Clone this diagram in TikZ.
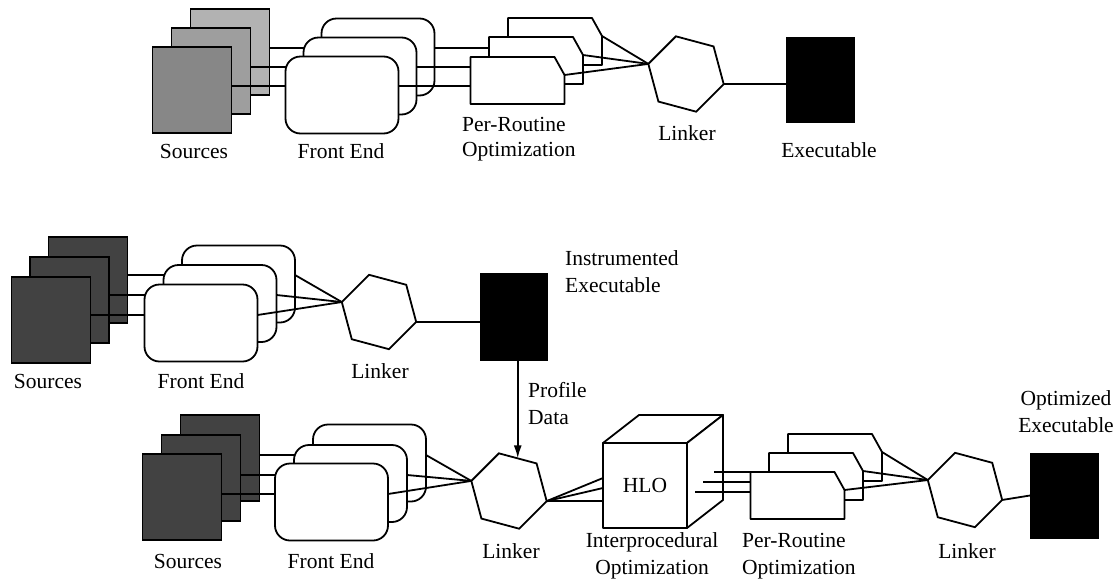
\documentclass[tikz,border=0pt]{standalone}
\usepackage{fontspec}
\setmainfont{Liberation Serif}
\usetikzlibrary{shapes.geometric,arrows.meta}
\pgfdeclarelayer{cubeL}
\pgfdeclarelayer{bkLn}
\pgfdeclarelayer{bk}
\pgfdeclarelayer{mdLn}
\pgfdeclarelayer{md}
\pgfdeclarelayer{frLn}
\pgfdeclarelayer{fr}
\pgfsetlayers{cubeL,bkLn,bk,mdLn,md,frLn,fr,main}
\tikzset{
 ln/.style={line width=1.8pt},
 srcbox/.style={draw, line width=1.5pt, minimum width=79pt, minimum height=86pt, inner sep=0pt, outer sep=0pt},
 febox/.style={draw, fill=white, line width=1.8pt, rounded corners=15pt, minimum width=113pt, minimum height=77pt, inner sep=0pt, outer sep=0pt},
 prbox/.style={minimum width=94pt, minimum height=47pt, inner sep=0pt, outer sep=0pt},
 prline/.style={draw, fill=white, line width=1.8pt, line join=round},
 hexa/.style={regular polygon, regular polygon sides=6, shape border rotate=-15, draw, fill=white, line width=1.8pt, minimum size=78pt, inner sep=0pt, outer sep=0pt},
 exebox/.style={draw, fill=black, minimum width=68pt, minimum height=85pt, inner sep=0pt, outer sep=0pt},
 cubeface/.style={draw, fill=white, line width=1.8pt, line join=round},
 lbl/.style={font=\fontsize{21.5}{27}\selectfont, inner sep=0pt},
 srclight/.style={fill=black!30},
 srcmid/.style={fill=black!38},
 srcdark/.style={fill=black!47},
 srcnight/.style={fill=black!74},
}
\newcommand\drawprbox[1]{\path[prline] (#1.south west) -- (#1.north west) -- ([xshift=-10pt]#1.north east) -- ([yshift=-18pt]#1.north east) -- (#1.south east) -- cycle;}
\begin{document}
\begin{tikzpicture}[x=1pt,y=-1pt]
\useasboundingbox (0,0) rectangle (1117,579);

% ================= TOP ROW =================
\begin{pgfonlayer}{bk}
 \node[srcbox, srclight] (sA3) at (230,52) {};
 \node[febox] (fA3) at (378,57) {};
 \node[prbox] (pA3) at (555,41.5) {};
 \drawprbox{pA3}
\end{pgfonlayer}
\begin{pgfonlayer}{md}
 \node[srcbox, srcmid] (sA2) at (211,71) {};
 \node[febox] (fA2) at (360,76) {};
 \node[prbox] (pA2) at (536,60.5) {};
 \drawprbox{pA2}
\end{pgfonlayer}
\begin{pgfonlayer}{fr}
 \node[srcbox, srcdark] (sA1) at (192,90) {};
 \node[febox] (fA1) at (342,95) {};
 \node[prbox] (pA1) at (517.5,80.5) {};
 \drawprbox{pA1}
\end{pgfonlayer}
\begin{pgfonlayer}{bkLn}
 \draw[ln] ([yshift=4pt]sA3.east) -- ([yshift=4pt]sA3.east -| pA3.west);
\end{pgfonlayer}
\begin{pgfonlayer}{mdLn}
 \draw[ln] ([yshift=4pt]sA2.east) -- ([yshift=4pt]sA2.east -| pA2.west);
\end{pgfonlayer}
\begin{pgfonlayer}{frLn}
 \draw[ln] ([yshift=4pt]sA1.east) -- ([yshift=4pt]sA1.east -| pA1.west);
\end{pgfonlayer}
\node[hexa] (lnkA) at (686,74) {};
\node[exebox] (exeA) at (820,79.5) {};
\draw[ln] ([yshift=-18pt]pA3.north east) -- (lnkA.165);
\draw[ln] ([yshift=-18pt]pA2.north east) -- (lnkA.165);
\draw[ln] ([yshift=-18pt]pA1.north east) -- (lnkA.165);
\draw[ln] (lnkA.-15) -- (lnkA.-15 -| exeA.west);
\node[lbl, anchor=base] (tA1) at (194,158) {Sources};
\node[lbl, anchor=base] (tA2) at (341,158) {Front End};
\node[lbl, anchor=west, align=left, font=\fontsize{21.5}{25}\selectfont] (tA3) at (462,139.6) {Per-Routine\\Optimization};
\node[lbl, anchor=base] (tA4) at (687,140) {Linker};
\node[lbl, anchor=base] (tA5) at (829,157) {Executable};

% ================= MIDDLE ROW =================
\begin{pgfonlayer}{bk}
 \node[srcbox, srcnight] (sB3) at (88,280) {};
 \node[febox] (fB3) at (238.5,284) {};
\end{pgfonlayer}
\begin{pgfonlayer}{md}
 \node[srcbox, srcnight] (sB2) at (69.5,300) {};
 \node[febox] (fB2) at (220,303.5) {};
\end{pgfonlayer}
\begin{pgfonlayer}{fr}
 \node[srcbox, srcnight] (sB1) at (51,320) {};
 \node[febox] (fB1) at (201,323) {};
\end{pgfonlayer}
\begin{pgfonlayer}{bkLn}
 \draw[ln] ([yshift=5pt]sB3.east) -- ([yshift=5pt]sB3.east -| fB3.west);
\end{pgfonlayer}
\begin{pgfonlayer}{mdLn}
 \draw[ln] ([yshift=5pt]sB2.east) -- ([yshift=5pt]sB2.east -| fB2.west);
\end{pgfonlayer}
\begin{pgfonlayer}{frLn}
 \draw[ln] ([yshift=5pt]sB1.east) -- ([yshift=5pt]sB1.east -| fB1.west);
\end{pgfonlayer}
\node[hexa, minimum size=77pt] (lnkB) at (379,312) {};
\node[exebox, minimum width=67pt, minimum height=87pt] (ieB) at (513.5,316.5) {};
\draw[ln] ([yshift=5pt]sB3.east -| fB3.east) -- (lnkB.165);
\draw[ln] ([yshift=5pt]sB2.east -| fB2.east) -- (lnkB.165);
\draw[ln] ([yshift=5pt]sB1.east -| fB1.east) -- (lnkB.165);
\draw[ln] (lnkB.-15) -- (lnkB.-15 -| ieB.west);
\node[lbl, anchor=base] (tB1) at (48,388) {Sources};
\node[lbl, anchor=base] (tB2) at (201,388) {Front End};
\node[lbl, anchor=base] (tB3) at (380,378) {Linker};
\node[lbl, anchor=west, align=left] (tB4) at (565,272) {Instrumented\\Executable};

% ================= BOTTOM ROW =================
\begin{pgfonlayer}{cubeL}
 \node[cubeface, minimum width=84pt, minimum height=85pt, inner sep=0pt, outer sep=0pt, font=\fontsize{21.5}{27}\selectfont] (hlo) at (645,485.5) {HLO};
 \path[cubeface] (hlo.north west) -- ([shift={(36pt,28pt)}]hlo.north west) -- ([shift={(36pt,28pt)}]hlo.north east) -- (hlo.north east) -- cycle;
 \path[cubeface] (hlo.north east) -- ([shift={(36pt,28pt)}]hlo.north east) -- ([shift={(36pt,28pt)}]hlo.south east) -- (hlo.south east) -- cycle;
\end{pgfonlayer}
\coordinate (h1) at ([shift={(27pt,13.5pt)}]hlo.east);
\coordinate (h2) at ([shift={(16pt,3.5pt)}]hlo.east);
\coordinate (h3) at ([shift={(8pt,-6.5pt)}]hlo.east);
\begin{pgfonlayer}{bk}
 \node[srcbox, srcnight] (sC3) at (220,458) {};
 \node[febox] (fC3) at (369.5,463) {};
 \node[prbox] (pC3) at (835,457.5) {};
 \drawprbox{pC3}
\end{pgfonlayer}
\begin{pgfonlayer}{md}
 \node[srcbox, srcnight] (sC2) at (201,478) {};
 \node[febox] (fC2) at (350.5,483.5) {};
 \node[prbox] (pC2) at (816,476.5) {};
 \drawprbox{pC2}
\end{pgfonlayer}
\begin{pgfonlayer}{fr}
 \node[srcbox, srcnight] (sC1) at (182,497) {};
 \node[febox] (fC1) at (331.5,502) {};
 \node[prbox] (pC1) at (797.5,495.5) {};
 \drawprbox{pC1}
\end{pgfonlayer}
\begin{pgfonlayer}{bkLn}
 \draw[ln] ([yshift=3pt]sC3.east) -- ([yshift=3pt]sC3.east -| fC3.west);
 \draw[ln] (h1) -- (h1 -| pC3.west);
\end{pgfonlayer}
\begin{pgfonlayer}{mdLn}
 \draw[ln] ([yshift=3pt]sC2.east) -- ([yshift=3pt]sC2.east -| fC2.west);
 \draw[ln] (h2) -- (h2 -| pC2.west);
\end{pgfonlayer}
\begin{pgfonlayer}{frLn}
 \draw[ln] ([yshift=3pt]sC1.east) -- ([yshift=3pt]sC1.east -| fC1.west);
 \draw[ln] (h3) -- (h3 -| pC1.west);
\end{pgfonlayer}
\node[hexa] (lnkC) at (509,491) {};
\node[hexa, minimum size=77pt] (lnkD) at (965,490) {};
\node[exebox] (oeD) at (1064,495.5) {};
\draw[ln] ([yshift=3pt]sC3.east -| fC3.east) -- (lnkC.165);
\draw[ln] ([yshift=3pt]sC2.east -| fC2.east) -- (lnkC.165);
\draw[ln] ([yshift=3pt]sC1.east -| fC1.east) -- (lnkC.165);
\draw[ln] (lnkC.-15) -- ([yshift=7.5pt]hlo.west);
\draw[ln] (lnkC.-15) -- ([yshift=-2.5pt]hlo.west);
\draw[ln] (lnkC.-15) -- ([yshift=-15.5pt]hlo.west);
\draw[ln] ([yshift=-18pt]pC3.north east) -- (lnkD.165);
\draw[ln] ([yshift=-18pt]pC2.north east) -- (lnkD.165);
\draw[ln] ([yshift=-18pt]pC1.north east) -- (lnkD.165);
\draw[ln] (lnkD.-15) -- (oeD.west);
% profile data arrow
\draw[ln, -{Latex[length=13pt,width=8pt]}] (lnkC.75 |- ieB.south) -- (lnkC.75);
\node[lbl, anchor=west, align=left] (tB5) at (528,404) {Profile\\Data};
\node[lbl, anchor=base] (tC1) at (188,568) {Sources};
\node[lbl, anchor=base] (tC2) at (331,568) {Front End};
\node[lbl, anchor=base] (tC3) at (511,558) {Linker};
\node[lbl, align=center] (tC4) at (652,556) {Interprocedural\\Optimization};
\node[lbl, anchor=west, align=left] (tC5) at (742,556) {Per-Routine\\Optimization};
\node[lbl, anchor=base] (tC6) at (967,558) {Linker};
\node[lbl, align=center] (tC7) at (1066,412) {Optimized\\Executable};
\end{tikzpicture}
\end{document}
